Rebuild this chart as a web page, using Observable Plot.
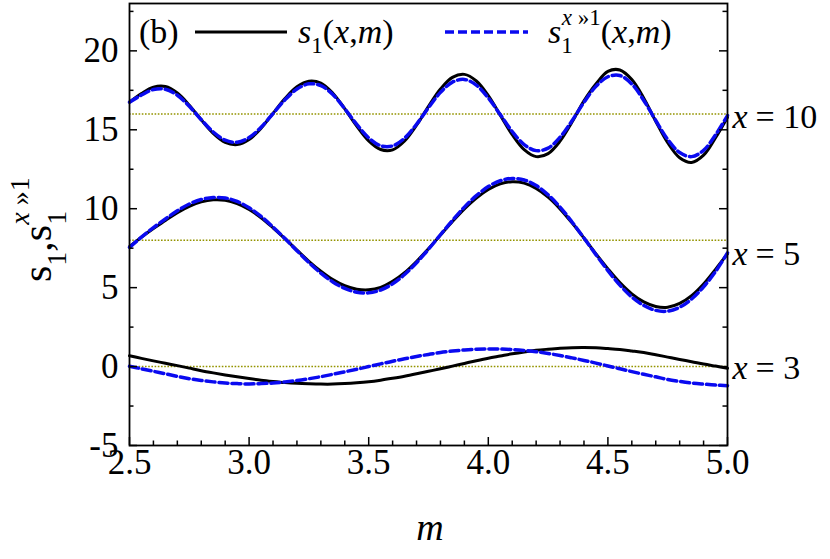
<!DOCTYPE html>
<html><head><meta charset="utf-8">
<script src="https://cdn.jsdelivr.net/npm/d3@7"></script>
<script src="https://cdn.jsdelivr.net/npm/@observablehq/plot@0.6"></script>
<style>
body{margin:0;background:#fff;}
#chart{width:830px;height:559px;}
</style></head><body><div id="chart"></div>
<script>
// ---- data ----
const m = [2.50,2.55,2.60,2.65,2.70,2.75,2.80,2.85,2.90,2.95,3.00,3.05,3.10,3.15,3.20,3.25,3.30,3.35,3.40,3.45,3.50,3.55,3.60,3.65,3.70,3.75,3.80,3.85,3.90,3.95,4.00,4.05,4.10,4.15,4.20,4.25,4.30,4.35,4.40,4.45,4.50,4.55,4.60,4.65,4.70,4.75,4.80,4.85,4.90,4.95,5.00];

// s1(x,m), x = 10
const exact10 = [16.75,17.30,17.70,17.74,17.33,16.56,15.63,14.77,14.20,14.06,14.38,15.10,16.04,16.98,17.72,18.08,17.96,17.32,16.33,15.24,14.30,13.75,13.73,14.29,15.29,16.48,17.58,18.32,18.51,18.09,17.16,15.93,14.69,13.74,13.30,13.49,14.28,15.49,16.83,17.90,18.70,18.79,18.18,17.00,15.54,14.18,13.23,12.93,13.39,14.50,15.80];
// s1^{x>>1}(x,m), x = 10
const approx10 = [16.75,17.20,17.55,17.57,17.19,16.49,15.64,14.86,14.34,14.21,14.51,15.16,16.03,16.90,17.58,17.91,17.80,17.23,16.33,15.34,14.49,13.99,13.98,14.47,15.35,16.40,17.37,18.02,18.19,17.83,17.02,15.96,14.89,14.06,13.68,13.84,14.53,15.57,16.74,17.75,18.36,18.44,17.90,16.86,15.59,14.39,13.56,13.30,13.70,14.68,15.90];

// x = 5
const exact5 = [7.60,8.20,8.75,9.25,9.75,10.15,10.43,10.56,10.53,10.32,9.95,9.43,8.79,8.10,7.38,6.67,6.04,5.51,5.12,4.90,4.86,5.02,5.40,5.95,6.66,7.47,8.33,9.19,9.99,10.68,11.22,11.57,11.71,11.62,11.28,10.73,9.99,9.10,8.14,7.14,6.19,5.32,4.61,4.10,3.81,3.76,4.00,4.49,5.23,6.16,7.15];
const approx5 = [7.55,8.20,8.80,9.35,9.87,10.30,10.58,10.71,10.68,10.46,10.06,9.51,8.84,8.11,7.34,6.59,5.92,5.36,4.95,4.71,4.67,4.85,5.24,5.83,6.58,7.43,8.35,9.25,10.10,10.83,11.40,11.77,11.92,11.82,11.47,10.88,10.10,9.16,8.14,7.09,6.08,5.16,4.41,3.87,3.56,3.51,3.76,4.28,5.05,6.02,7.20];

// x = 3
const exact3 = [0.68,0.52,0.36,0.21,0.06,-0.10,-0.26,-0.40,-0.53,-0.65,-0.76,-0.86,-0.94,-1.01,-1.06,-1.09,-1.11,-1.11,-1.08,-1.03,-0.96,-0.86,-0.74,-0.61,-0.46,-0.30,-0.14,0.03,0.20,0.37,0.53,0.67,0.81,0.93,1.03,1.10,1.16,1.20,1.21,1.19,1.14,1.08,0.99,0.89,0.75,0.60,0.45,0.31,0.16,0.03,-0.10];
const approx3 = [0.02,-0.14,-0.30,-0.46,-0.62,-0.77,-0.88,-0.97,-1.04,-1.08,-1.10,-1.08,-1.04,-0.97,-0.88,-0.77,-0.64,-0.49,-0.33,-0.17,0.00,0.17,0.34,0.49,0.64,0.77,0.89,0.98,1.05,1.10,1.12,1.11,1.08,1.02,0.94,0.83,0.70,0.55,0.39,0.22,0.04,-0.14,-0.32,-0.49,-0.65,-0.82,-0.94,-1.04,-1.11,-1.17,-1.21];

// reference levels and labels
const levels = [16, 8, 0];
const levelNames = ["10", "5", "3"];

// axis ticks
const xMajor = [2.5,3.0,3.5,4.0,4.5,5.0];
const xMinor = [2.6,2.7,2.8,2.9,3.1,3.2,3.3,3.4,3.6,3.7,3.8,3.9,4.1,4.2,4.3,4.4,4.6,4.7,4.8,4.9];
const yMajor = [-5,0,5,10,15,20];
const yMinor = [-2.5,2.5,7.5,12.5,17.5,22.5];
const xDomain = [2.5, 5.0];
const yDomain = [-5, 23];

// ---- layout ----
const W = 830, H = 559, ML = 129, MR = 103, MT = 3, MB = 114;
const IW = W - ML - MR, IH = H - MT - MB;
const FONT = "Liberation Serif";
const BLUE = "#0a0af0";
const OLIVE = "#949400";

const rows = arr => m.map((v, i) => ({m: v, s: arr[i]}));
const exactCurves = [exact10, exact5, exact3];
const approxCurves = [approx10, approx5, approx3];
const ends = exactCurves.map((arr, i) => ({m: m[m.length - 1], s: arr[arr.length - 1], name: levelNames[i]}));

const marks = [];
levels.forEach(l => marks.push(Plot.ruleY([l], {stroke: OLIVE, strokeWidth: 1.6, strokeDasharray: "1.6,1.6"})));
exactCurves.forEach(a => marks.push(Plot.line(rows(a), {x: "m", y: "s", curve: "catmull-rom", stroke: "black", strokeWidth: 3})));
approxCurves.forEach(a => marks.push(Plot.line(rows(a), {x: "m", y: "s", curve: "catmull-rom", stroke: BLUE, strokeWidth: 3.5, strokeDasharray: "9,4"})));

// inward ticks
marks.push(Plot.tickX(xMajor, {x: d => d, insetTop: IH - 8, stroke: "black", strokeWidth: 1.5}));
marks.push(Plot.tickX(xMinor, {x: d => d, insetTop: IH - 4.5, stroke: "black", strokeWidth: 1.5}));
marks.push(Plot.tickY(yMajor, {y: d => d, insetRight: IW - 8, stroke: "black", strokeWidth: 1.5}));
marks.push(Plot.tickY(yMinor, {y: d => d, insetRight: IW - 4.5, stroke: "black", strokeWidth: 1.5}));
marks.push(Plot.tickY(yMajor, {y: d => d, insetLeft: IW - 8, stroke: "black", strokeWidth: 1.5}));
marks.push(Plot.tickY(yMinor, {y: d => d, insetLeft: IW - 4.5, stroke: "black", strokeWidth: 1.5}));
marks.push(Plot.frame({stroke: "black", strokeWidth: 1.8}));

marks.push(Plot.axisX({ticks: xMajor, tickSize: 0, tickPadding: 4, tickFormat: d3.format(".1f"), label: null, fontSize: 35, fontFamily: FONT}));
marks.push(Plot.axisY({ticks: yMajor, tickSize: 0, tickPadding: 11, tickFormat: d => String(d), label: null, fontSize: 35, fontFamily: FONT}));

// right-side labels at curve ends
marks.push(Plot.text(ends, {x: "m", y: "s", text: () => "x", fontStyle: "italic", textAnchor: "start", dx: 5, fontSize: 34, fontFamily: FONT, fill: "black"}));
marks.push(Plot.text(ends, {x: "m", y: "s", text: d => "= " + d.name, textAnchor: "start", dx: 28, fontSize: 34, fontFamily: FONT, fill: "black"}));

const svg = Plot.plot({
  width: W, height: H,
  marginLeft: ML, marginRight: MR, marginTop: MT, marginBottom: MB,
  x: {domain: xDomain},
  y: {domain: yDomain},
  style: {fontSize: "34px", color: "black", background: "white", overflow: "visible"},
  marks
});
svg.setAttribute("font-family", FONT);
document.getElementById("chart").appendChild(svg);

// ---- legend, axis titles ----
const s = d3.select(svg);
const g = s.append("g").attr("fill", "black").attr("text-anchor", "start").attr("font-family", FONT);

g.append("text").attr("x", 139).attr("y", 43).attr("font-size", 34).text("(b)");
g.append("line").attr("x1", 195).attr("x2", 287).attr("y1", 32).attr("y2", 32).attr("stroke", "black").attr("stroke-width", 3);
const t1 = g.append("text").attr("x", 298).attr("y", 43).attr("font-size", 34);
t1.append("tspan").attr("font-style", "italic").text("s");
t1.append("tspan").attr("font-size", 23).attr("dy", 10).text("1");
t1.append("tspan").attr("dy", -10).text("(");
t1.append("tspan").attr("font-style", "italic").text("x");
t1.append("tspan").text(",");
t1.append("tspan").attr("font-style", "italic").text("m");
t1.append("tspan").text(")");

g.append("line").attr("x1", 445).attr("x2", 528).attr("y1", 32).attr("y2", 32).attr("stroke", BLUE).attr("stroke-width", 3.5).attr("stroke-dasharray", "9,4");
const t2 = g.append("text").attr("x", 548).attr("y", 43).attr("font-size", 34);
t2.append("tspan").attr("font-style", "italic").text("s");
t2.append("tspan").attr("font-size", 23).attr("dy", 10).text("1");
t2.append("tspan").attr("font-size", 23).attr("font-style", "italic").attr("dx", -11).attr("dy", -28).text("x");
t2.append("tspan").attr("font-size", 23).text(" »1");
t2.append("tspan").attr("dy", 18).text("(");
t2.append("tspan").attr("font-style", "italic").text("x");
t2.append("tspan").text(",");
t2.append("tspan").attr("font-style", "italic").text("m");
t2.append("tspan").text(")");

// x-axis title
g.append("text").attr("x", ML + IW / 2 + 2).attr("y", 540).attr("text-anchor", "middle").attr("font-size", 38).attr("font-style", "italic").text("m");

// y-axis title (rotated)
const yl = g.append("text").attr("transform", "translate(51,282) rotate(-90)").attr("font-size", 42);
yl.append("tspan").text("s");
yl.append("tspan").attr("font-size", 28).attr("dy", 15).text("1");
yl.append("tspan").attr("dy", -15).text(",");
yl.append("tspan").text("s");
yl.append("tspan").attr("font-size", 28).attr("dy", 15).text("1");
yl.append("tspan").attr("font-size", 28).attr("font-style", "italic").attr("dx", -14).attr("dy", -37).text("x");
yl.append("tspan").attr("font-size", 28).text(" »1");

// make sure every text uses the serif face
s.selectAll("text").attr("font-family", FONT).style("font-family", FONT);
</script></body></html>
